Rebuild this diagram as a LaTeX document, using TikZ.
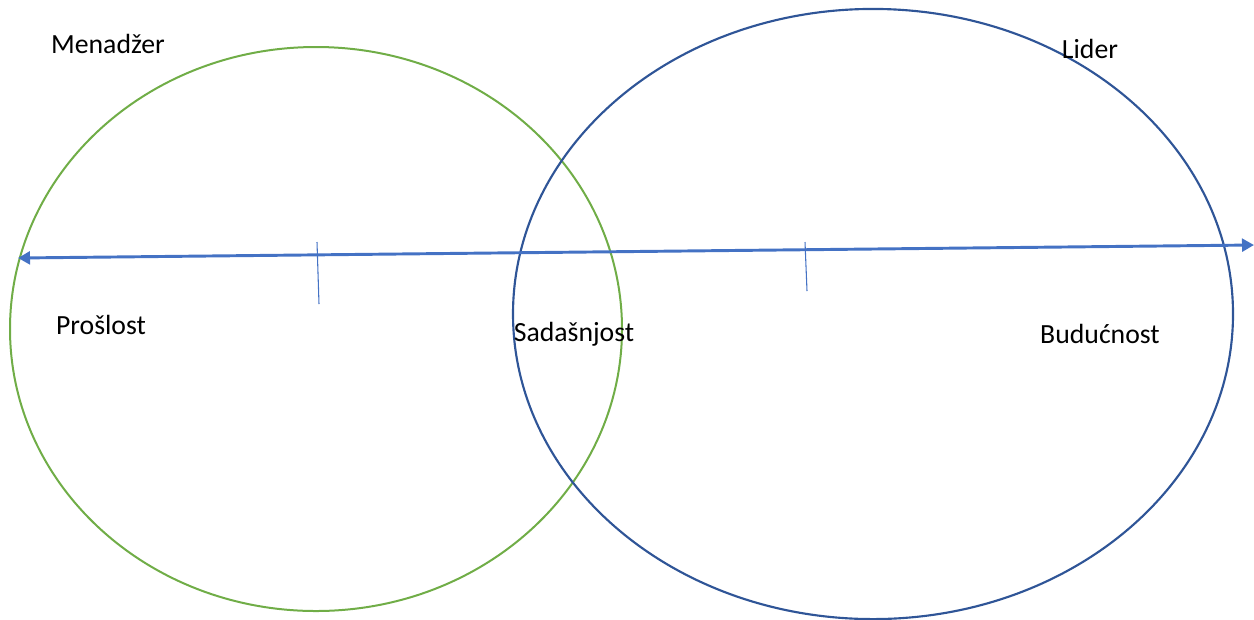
\documentclass[tikz,border=0pt]{standalone}
\usepackage{fontspec}
\setmainfont{Carlito}
\usetikzlibrary{arrows.meta,positioning}
\definecolor{mgreen}{HTML}{70AD47}
\definecolor{ldblue}{HTML}{2F5597}
\definecolor{axblue}{HTML}{4472C4}
\tikzset{
  manager/.style={draw=mgreen,line width=.75pt},
  leader/.style={draw=ldblue,line width=.8pt},
  timeline/.style={{Triangle[length=4.5pt,width=4.8pt]}-{Triangle[length=4.5pt,width=4.8pt]},draw=axblue,line width=1.1pt},
  tick/.style={draw=axblue,line width=.4pt},
  lbl/.style={font=\fontsize{10.4}{12.5}\selectfont,inner sep=0pt}
}
\begin{document}
\begin{tikzpicture}[x=0.375pt,y=-0.375pt]
\useasboundingbox (0,0) rectangle (1254,619);

% two circles
\draw[manager] (316,329) ellipse [x radius=114.75pt,y radius=105.75pt];
\draw[leader] (873,314) ellipse [x radius=135pt,y radius=114.4pt];

% time axis
\coordinate (past) at (18,258);
\coordinate (future) at (1254,245);
\draw[timeline] (past) -- (future);

\coordinate (t1a) at (317,242);
\coordinate (t1b) at (319,304);
\coordinate (t2a) at (805,242);
\coordinate (t2b) at (807,291);
\draw[tick] (t1a) -- (t1b);
\draw[tick] (t2a) -- (t2b);

\node[lbl] (menadzer) at (108,44) {Menadžer};
\node[lbl] (lider) at (1090,49) {Lider};
\node[lbl] (proslost) at (101,325) {Prošlost};
\node[lbl] (sadasnjost) at (574,334) {Sadašnjost};
\node[lbl] (buducnost) at (1100,334) {Budućnost};
\end{tikzpicture}
\end{document}
